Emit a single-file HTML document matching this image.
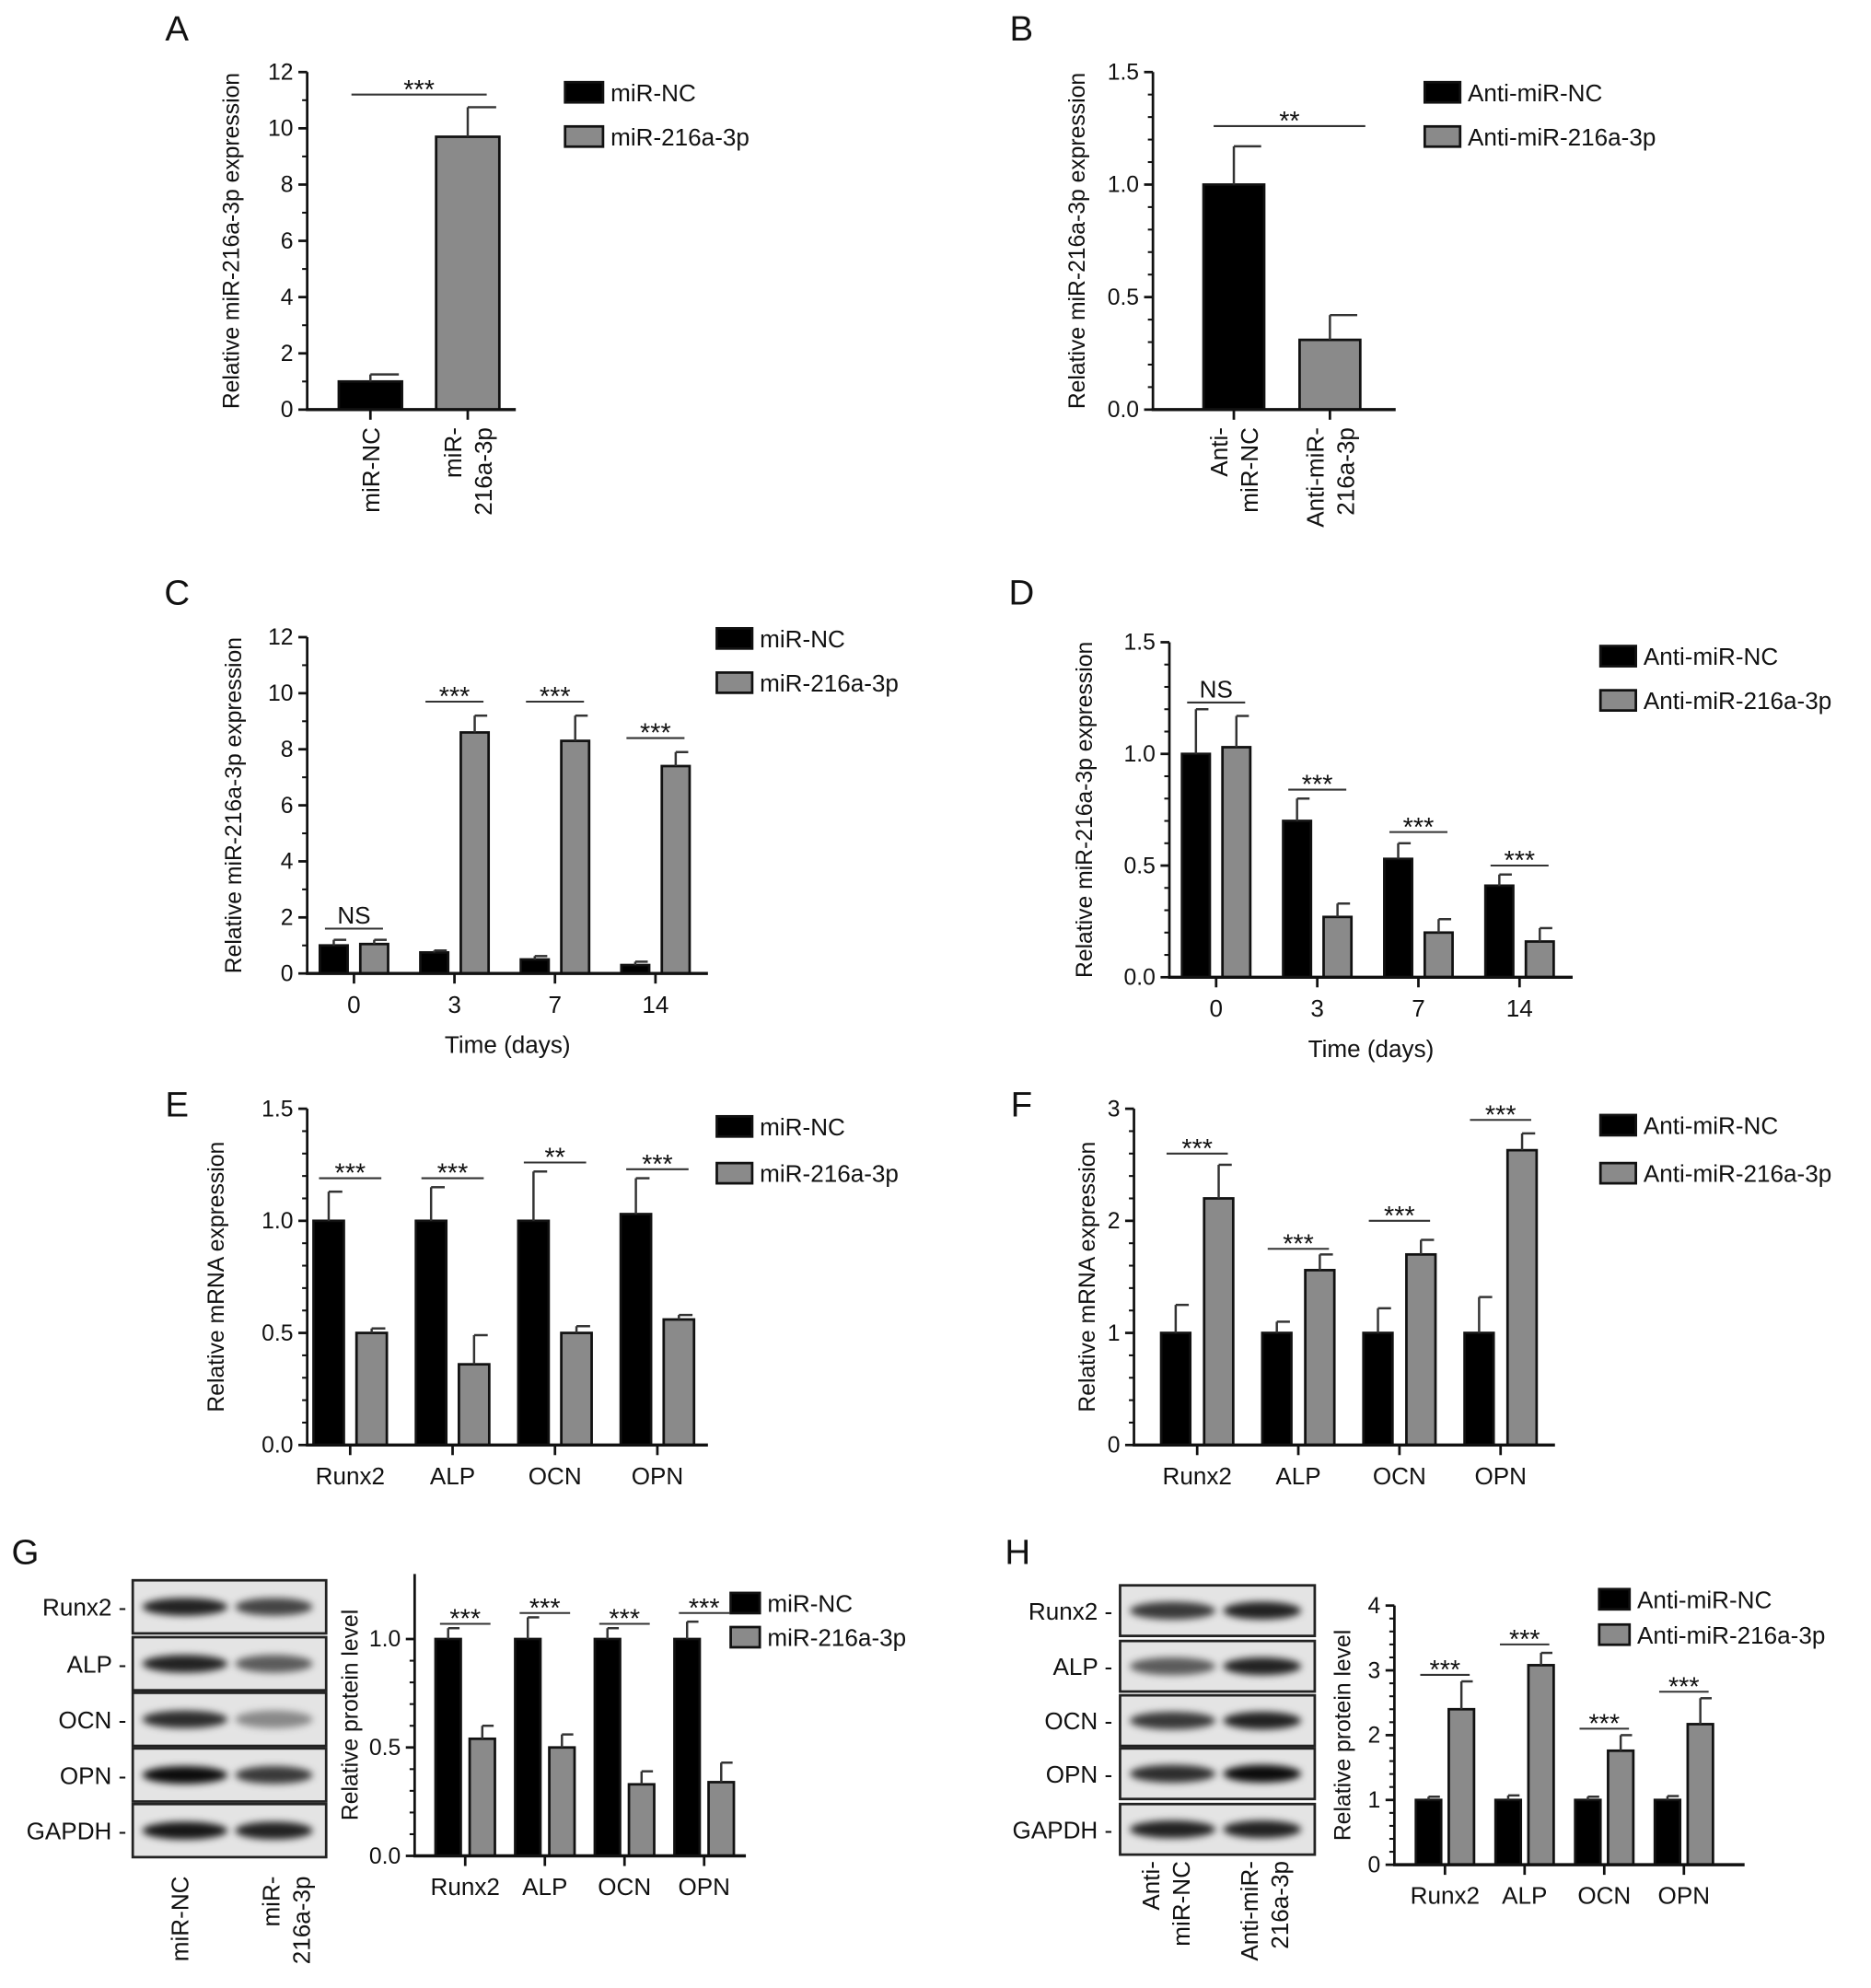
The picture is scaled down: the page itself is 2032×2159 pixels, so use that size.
<!DOCTYPE html>
<html><head><meta charset="utf-8"><style>
html,body{margin:0;padding:0;background:#fff}
svg{display:block;font-family:"Liberation Sans",sans-serif}
</style></head><body>
<svg id="fig" xmlns="http://www.w3.org/2000/svg" width="2032" height="2159" viewBox="0 0 1480 1572.5" preserveAspectRatio="none">
<defs><filter id="blur" x="-20%" y="-50%" width="140%" height="200%"><feGaussianBlur stdDeviation="3"/></filter></defs>
</svg>
<script>
// ---- data ----
const aCats=["miR-NC","miR-216a-3p"];
const aVals=[[1.0,9.7]];
const aErrs=[[1.25,10.75]];
const bCats=["Anti-miR-NC","Anti-miR-216a-3p"];
const bVals=[[1.0,0.31]];
const bErrs=[[1.17,0.42]];
const cCats=["0","3","7","14"];
const cNC=[1.0,0.75,0.5,0.3];
const cNCErr=[1.2,0.82,0.62,0.42];
const cMi=[1.05,8.6,8.3,7.4];
const cMiErr=[1.2,9.2,9.2,7.9];
const cSig=[1.6,9.7,9.7,8.4];
const cSigLab=["NS","***","***","***"];
const dCats=["0","3","7","14"];
const dNC=[1.0,0.7,0.53,0.41];
const dNCErr=[1.2,0.8,0.6,0.46];
const dMi=[1.03,0.27,0.2,0.16];
const dMiErr=[1.17,0.33,0.26,0.22];
const dSig=[1.23,0.84,0.65,0.5];
const dSigLab=["NS","***","***","***"];
const eCats=["Runx2","ALP","OCN","OPN"];
const eNC=[1.0,1.0,1.0,1.03];
const eNCErr=[1.13,1.15,1.22,1.19];
const eMi=[0.5,0.36,0.5,0.56];
const eMiErr=[0.52,0.49,0.53,0.58];
const eSig=[1.19,1.19,1.26,1.23];
const eSigLab=["***","***","**","***"];
const fCats=["Runx2","ALP","OCN","OPN"];
const fNC=[1,1,1,1];
const fNCErr=[1.25,1.1,1.22,1.32];
const fMi=[2.2,1.56,1.7,2.63];
const fMiErr=[2.5,1.7,1.83,2.78];
const fSig=[2.6,1.75,2.0,2.9];
const fSigLab=["***","***","***","***"];
const gCats=["Runx2","ALP","OCN","OPN"];
const gNC=[1,1,1,1];
const gNCErr=[1.05,1.1,1.05,1.08];
const gMi=[0.54,0.5,0.33,0.34];
const gMiErr=[0.6,0.56,0.39,0.43];
const gSig=[1.07,1.12,1.07,1.12];
const gSigLab=["***","***","***","***"];
const hCats=["Runx2","ALP","OCN","OPN"];
const hNC=[1,1,1,1];
const hNCErr=[1.05,1.07,1.05,1.06];
const hMi=[2.4,3.08,1.76,2.17];
const hMiErr=[2.83,3.27,2.0,2.57];
const hSig=[2.93,3.4,2.1,2.67];
const hSigLab=["***","***","***","***"];
const blotRows=["Runx2","ALP","OCN","OPN","GAPDH"];
const gBand1=[0.85,0.85,0.8,0.95,0.9];
const gBand2=[0.7,0.6,0.4,0.75,0.85];
const hBand1=[0.75,0.6,0.75,0.8,0.85];
const hBand2=[0.85,0.85,0.85,0.95,0.85];

const NSs='http://www.w3.org/2000/svg';
const svg=document.getElementById('fig');
function mk(tag,parent,attrs){const e=document.createElementNS(NSs,tag);for(const k in attrs)e.setAttribute(k,attrs[k]);(parent||svg).appendChild(e);return e;}
function txt(parent,x,y,s,size,anchor,rot){const t=mk('text',parent,{x:x,y:y,'font-size':size,'text-anchor':anchor||'middle',fill:'#111'});if(rot)t.setAttribute('transform','rotate('+rot+' '+x+' '+y+')');t.textContent=s;return t;}

function chart(c){
  const g=mk('g',svg,{});
  
  
  const y=v=>c.y0-(v/c.vmax)*(c.y0-c.yTop);
  const cx=i=>c.ax+c.padL+c.step*i;
  const ya=mk('line',g,{x1:c.ax,y1:y(c.vmax),x2:c.ax,y2:c.y0,stroke:'#111','stroke-width':2});
  
  
  c.ticks.forEach((t,i)=>{
    mk('line',g,{x1:c.ax-7,y1:y(t),x2:c.ax,y2:y(t),stroke:'#111','stroke-width':2});
    const tl=txt(g,c.ax-11,y(t)+6,c.tickLabels[i],18,'end');
    
    
    if(i<c.ticks.length-1&&c.minor){for(let k=1;k<c.minor;k++){const v=t+(c.ticks[i+1]-t)*k/c.minor;mk('line',g,{x1:c.ax-4,y1:y(v),x2:c.ax,y2:y(v),stroke:'#111','stroke-width':1.5});}}
  });
  const yt=txt(g,c.ytX,(c.y0+c.yTop)/2,c.ytitle,18,'middle',-90);
  
  
  const colors=['#000','#8a8a8a'];
  c.cats.forEach((cat,i)=>{
    const nS=c.series.length;
    for(let s=0;s<nS;s++){
      let left,fill;
      if(c.single){left=cx(i)-c.w/2;fill=colors[i];}
      else{left=s===0?cx(i)-c.gap/2-c.w:cx(i)+c.gap/2;fill=colors[s];}
      const v=c.series[s][i];
      const r=mk('rect',g,{x:left,y:y(v),width:c.w,height:c.y0-y(v),fill:fill,stroke:'#111','stroke-width':2});
      
      
      const e=c.errs[s][i],mx=left+c.w/2;
      mk('line',g,{x1:mx,y1:y(v),x2:mx,y2:y(e),stroke:'#333','stroke-width':1.8});
      mk('line',g,{x1:mx,y1:y(e),x2:mx+c.w/2*0.9,y2:y(e),stroke:'#333','stroke-width':1.8});
    }
    mk('line',g,{x1:cx(i),y1:c.y0,x2:cx(i),y2:c.y0+8,stroke:'#111','stroke-width':2});
    if(!c.rotLabels){const xl=txt(g,cx(i),c.y0+31,cat,19,'middle');}
    if(c.sig){
      if(c.single&&i>0)return;
      const sy=y(c.sig[i]);
      const half=(c.w+c.gap/2)*0.85;
      const x1=c.single?c.sigX1:cx(i)-half, x2=c.single?c.sigX2:cx(i)+half;
      mk('line',g,{x1:x1,y1:sy,x2:x2,y2:sy,stroke:'#333','stroke-width':1.5});
      const lab=c.sigLab[i];
      const st=txt(g,(x1+x2)/2,lab==='NS'?sy-4:sy+3,lab,lab==='NS'?19:21,'middle');
      
      
    }
  });
  const xa=mk('line',g,{x1:c.ax-1,y1:c.y0,x2:c.xEnd,y2:c.y0,stroke:'#111','stroke-width':2.5});
  
  
  if(c.xtitle){const xt=txt(g,(c.ax+c.xEnd)/2,c.y0+63,c.xtitle,19,'middle');}
  c.legend.forEach((l,i)=>{
    const ly=c.legY+i*c.legGap;
    const sw=mk('rect',g,{x:c.legX,y:ly-8,width:c.legW||28,height:16,fill:colors[i],stroke:'#111','stroke-width':2});
    
    
    const lt=txt(g,c.legX+(c.legW||28)+6,ly+7,l,19,'start');
    
    
  });
  return {cx:cx};
}
function panelLetter(s,x,y){const t=txt(svg,x,y,s,28,'middle');}
function rotLabels(lines,x,yTop){
  lines.forEach((ln,k)=>{const t=txt(svg,x+(k-(lines.length-1)/2)*24+7,yTop,ln,19,'end',-90);});
}

panelLetter('A',140,32);
const A=chart({name:'chart-a',ax:243,y0:324,yTop:57,vmax:12,ticks:[0,2,4,6,8,10,12],tickLabels:['0','2','4','6','8','10','12'],minor:2,xEnd:408,padL:50,step:77,w:50,single:true,cats:aCats,series:aVals,errs:aErrs,ytitle:'Relative miR-216a-3p expression',ytX:189,rotLabels:true,sig:[11.2],sigLab:['***'],sigX1:278,sigX2:385,legend:['miR-NC','miR-216a-3p'],legX:447,legY:73,legGap:35,legW:30});
rotLabels(['miR-NC'],A.cx(0),338);rotLabels(['miR-','216a-3p'],A.cx(1),338);
panelLetter('B',808,32);
const B=chart({name:'chart-b',ax:912,y0:324,yTop:57,vmax:1.5,ticks:[0,0.5,1,1.5],tickLabels:['0.0','0.5','1.0','1.5'],minor:5,xEnd:1104,padL:64,step:76,w:48,single:true,cats:bCats,series:bVals,errs:bErrs,ytitle:'Relative miR-216a-3p expression',ytX:858,rotLabels:true,sig:[1.26],sigLab:['**'],sigX1:960,sigX2:1080,legend:['Anti-miR-NC','Anti-miR-216a-3p'],legX:1127,legY:73,legGap:35});
rotLabels(['Anti-','miR-NC'],B.cx(0),338);rotLabels(['Anti-miR-','216a-3p'],B.cx(1),338);
panelLetter('C',140,478);
chart({name:'chart-c',ax:243,y0:770,yTop:504,vmax:12,ticks:[0,2,4,6,8,10,12],tickLabels:['0','2','4','6','8','10','12'],minor:2,xEnd:560,padL:37,step:79.5,w:22,gap:10,cats:cCats,series:[cNC,cMi],errs:[cNCErr,cMiErr],ytitle:'Relative miR-216a-3p expression',ytX:191,sig:cSig,sigLab:cSigLab,xtitle:'Time (days)',legend:['miR-NC','miR-216a-3p'],legX:567,legY:505,legGap:35});
panelLetter('D',808,478);
chart({name:'chart-d',ax:925,y0:773,yTop:508,vmax:1.5,ticks:[0,0.5,1,1.5],tickLabels:['0.0','0.5','1.0','1.5'],minor:5,xEnd:1244,padL:37,step:80,w:22,gap:10,cats:dCats,series:[dNC,dMi],errs:[dNCErr,dMiErr],ytitle:'Relative miR-216a-3p expression',ytX:864,sig:dSig,sigLab:dSigLab,xtitle:'Time (days)',legend:['Anti-miR-NC','Anti-miR-216a-3p'],legX:1266,legY:519,legGap:35});
panelLetter('E',140,883);
chart({name:'chart-e',ax:243,y0:1143,yTop:877,vmax:1.5,ticks:[0,0.5,1,1.5],tickLabels:['0.0','0.5','1.0','1.5'],minor:5,xEnd:560,padL:34,step:81,w:24,gap:10,cats:eCats,series:[eNC,eMi],errs:[eNCErr,eMiErr],ytitle:'Relative mRNA expression',ytX:177,sig:eSig,sigLab:eSigLab,legend:['miR-NC','miR-216a-3p'],legX:567,legY:891,legGap:37});
panelLetter('F',808,883);
chart({name:'chart-f',ax:897,y0:1143,yTop:877,vmax:3,ticks:[0,1,2,3],tickLabels:['0','1','2','3'],minor:5,xEnd:1230,padL:50,step:80,w:23,gap:11,cats:fCats,series:[fNC,fMi],errs:[fNCErr,fMiErr],ytitle:'Relative mRNA expression',ytX:866,sig:fSig,sigLab:fSigLab,legend:['Anti-miR-NC','Anti-miR-216a-3p'],legX:1266,legY:890,legGap:38});
panelLetter('G',20,1237);
function blot(name,x,w,tops,h,b1,b2,labX){
  const g=mk('g',svg,{});
  
  
  blotRows.forEach((r,i)=>{
    const y=tops[i];
    mk('rect',g,{x:x,y:y,width:w,height:h,fill:'#e4e4e4',stroke:'#222','stroke-width':2});
    mk('ellipse',g,{cx:x+w*0.27,cy:y+h/2,rx:w*0.22,ry:7,fill:'#000','fill-opacity':b1[i],filter:'url(#blur)'});
    mk('ellipse',g,{cx:x+w*0.73,cy:y+h/2,rx:w*0.2,ry:7,fill:'#000','fill-opacity':b2[i],filter:'url(#blur)'});
    const t=txt(g,labX,y+h/2+7,r+' -',19,'end');
    
    
  });
}
blot('western-blot-g',105,153,[1250,1295,1339,1383,1427],42,gBand1,gBand2,100);
rotLabels(['miR-NC'],142,1484);rotLabels(['miR-','216a-3p'],226,1484);
chart({name:'chart-g',ax:328,y0:1468,yTop:1245,vmax:1.3,ticks:[0,0.5,1.0],tickLabels:['0.0','0.5','1.0'],minor:5,xEnd:590,padL:40,step:63,w:20,gap:7,cats:gCats,series:[gNC,gMi],errs:[gNCErr,gMiErr],ytitle:'Relative protein level',ytX:283,sig:gSig,sigLab:gSigLab,legend:['miR-NC','miR-216a-3p'],legX:578,legY:1268,legGap:27,legW:23});
panelLetter('H',805,1237);
blot('western-blot-h',886,154,[1254,1298,1341,1383,1427],40,hBand1,hBand2,880);
rotLabels(['Anti-','miR-NC'],922,1472);rotLabels(['Anti-miR-','216a-3p'],1000,1472);
chart({name:'chart-h',ax:1103,y0:1475,yTop:1270,vmax:4,ticks:[0,1,2,3,4],tickLabels:['0','1','2','3','4'],minor:5,xEnd:1380,padL:40,step:63,w:20,gap:6,cats:hCats,series:[hNC,hMi],errs:[hNCErr,hMiErr],ytitle:'Relative protein level',ytX:1068,sig:hSig,sigLab:hSigLab,legend:['Anti-miR-NC','Anti-miR-216a-3p'],legX:1265,legY:1265,legGap:28,legW:24});
</script>
</body></html>
